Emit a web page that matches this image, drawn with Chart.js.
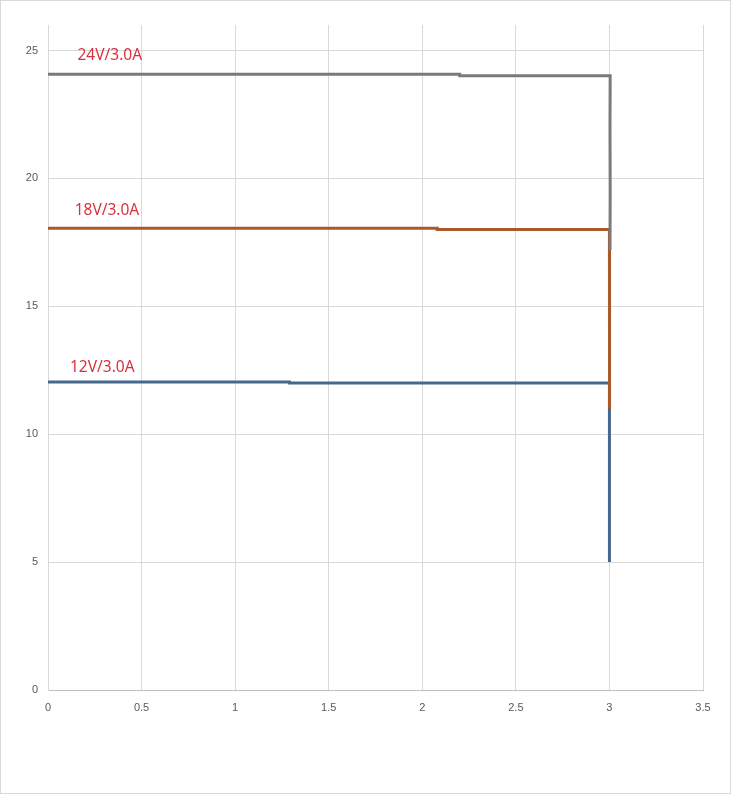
<!DOCTYPE html>
<html>
<head>
<meta charset="utf-8">
<script src="https://cdn.jsdelivr.net/npm/chart.js@4.4.1/dist/chart.umd.min.js"></script>
<style>
  html, body { margin: 0; padding: 0; background: #fff; }
  .frame {
    box-sizing: border-box;
    width: 731px;
    height: 794px;
    border: 1px solid #d9d9d9;
    position: relative;
  }
  canvas { display: block; }
</style>
</head>
<body>
<div class="frame"><canvas id="ivChart"></canvas></div>
<script>
const xTicks = [0, 0.5, 1, 1.5, 2, 2.5, 3, 3.5];
const yTicks = [0, 5, 10, 15, 20, 25];

const current12 = [0, 1.29, 1.29, 3.0, 3.001, 2.999, 3.002, 2.999, 3.001, 2.999, 3.0];
const voltage12 = [12.04, 12.04, 12.0, 12.0, 11.0, 10.0, 9.0, 8.0, 7.0, 6.0, 5.0];

const current18 = [0, 2.08, 2.08, 3.0, 3.001, 2.999, 3.002, 3.0, 3.001];
const voltage18 = [18.05, 18.05, 18.0, 18.0, 16.5, 15.0, 13.5, 12.0, 11.0];

const current24 = [0, 2.2, 2.2, 3.004, 3.003, 3.004, 3.003];
const voltage24 = [24.07, 24.07, 24.02, 24.02, 22.0, 19.5, 17.2];

const labelTexts = ["24V/3.0A", "18V/3.0A", "12V/3.0A"];
const labelX = [0.33, 0.315, 0.29];
const labelY = [24.8, 18.75, 12.6];

function toPoints(xs, ys) {
  return xs.map((x, i) => ({ x: x, y: ys[i] }));
}

const curveLabels = {
  id: "curveLabels",
  afterDatasetsDraw(chart) {
    const ctx = chart.ctx;
    const xs = chart.scales.x;
    const ys = chart.scales.y;
    ctx.save();
    ctx.fillStyle = "#d8323c";
    ctx.font = "15.5px 'Noto Sans', 'Open Sans', sans-serif";
    ctx.textAlign = "center";
    ctx.textBaseline = "middle";
    labelTexts.forEach((t, i) => {
      ctx.fillText(t, xs.getPixelForValue(labelX[i]), ys.getPixelForValue(labelY[i]));
    });
    ctx.restore();
  }
};

const tickFont = { family: "'Liberation Sans Narrow', 'Liberation Sans', Arial, sans-serif", size: 11 };

new Chart(document.getElementById("ivChart"), {
  type: "scatter",
  data: {
    datasets: [
      {
        label: "24V",
        data: toPoints(current24, voltage24),
        borderColor: "#7a7a7a",
        order: 0
      },
      {
        label: "18V",
        data: toPoints(current18, voltage18),
        borderColor: "#a9592a",
        order: 1
      },
      {
        label: "12V",
        data: toPoints(current12, voltage12),
        borderColor: "#44698c",
        order: 2
      }
    ]
  },
  options: {
    responsive: true,
    maintainAspectRatio: false,
    animation: false,
    showLine: true,
    elements: {
      point: { radius: 0, hoverRadius: 0 },
      line: { borderWidth: 3, tension: 0, borderCapStyle: "butt", borderJoinStyle: "miter" }
    },
    layout: {
      padding: { left: 0, top: 24, right: 27, bottom: 73 }
    },
    plugins: {
      legend: { display: false },
      tooltip: { enabled: false }
    },
    scales: {
      x: {
        type: "linear",
        min: 0,
        max: 3.5,
        afterBuildTicks: (scale) => {
          scale.ticks = xTicks.map((v) => ({ value: v }));
        },
        afterFit: (scale) => {
          scale.height = 30;
        },
        ticks: {
          color: "#595959",
          font: tickFont,
          padding: 11,
          maxRotation: 0,
          autoSkip: false,
          callback: (v) => String(v)
        },
        grid: {
          color: "#d9d9d9",
          lineWidth: 1,
          drawTicks: false
        },
        border: { color: "#bfbfbf", width: 1 }
      },
      y: {
        type: "linear",
        min: 0,
        max: 26,
        afterBuildTicks: (scale) => {
          scale.ticks = yTicks.map((v) => ({ value: v }));
        },
        afterFit: (scale) => {
          scale.width = 47;
        },
        ticks: {
          color: "#595959",
          font: tickFont,
          padding: 10,
          callback: (v) => String(v)
        },
        grid: {
          color: (c) => (c.tick && c.tick.value === 0 ? "rgba(0,0,0,0)" : "#d9d9d9"),
          lineWidth: 1,
          drawTicks: false
        },
        border: { color: "#d9d9d9", width: 1 }
      }
    }
  },
  plugins: [curveLabels]
});
</script>
</body>
</html>
